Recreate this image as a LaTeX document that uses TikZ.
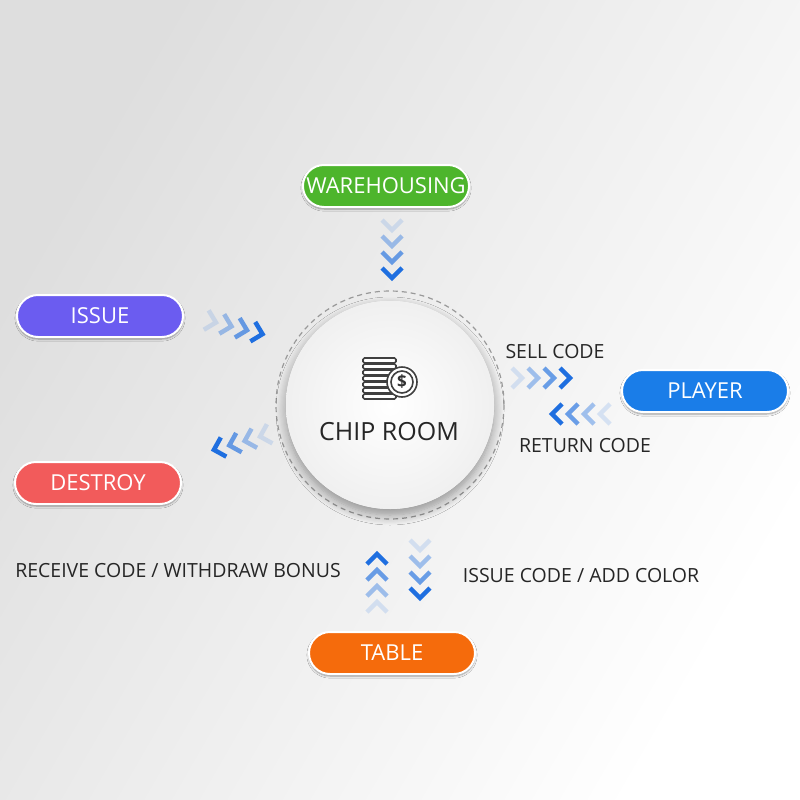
\documentclass[tikz,border=0pt]{standalone}
\usepackage{fontspec}
\setmainfont{Open Sans}
\usetikzlibrary{shadows.blur}
\definecolor{cgreen}{HTML}{4DB52C}
\definecolor{cpurple}{HTML}{6B5CF0}
\definecolor{cred}{HTML}{F25B5B}
\definecolor{cblue}{HTML}{1A7DE8}
\definecolor{corange}{HTML}{F56B0C}
\definecolor{cchev}{HTML}{1F6FE0}
\tikzset{
  pill/.style={rounded corners=21pt, minimum width=166pt, minimum height=42pt, draw=white, line width=2pt, text=white, font=\fontsize{22}{22}\selectfont, blur shadow={shadow blur steps=5,shadow xshift=0pt,shadow yshift=-2pt}},
  lbl/.style={font=\fontsize{19.5}{19.5}\selectfont, text=black!85},
}
\newcommand{\chevs}[3]{% x y angle
  \begin{scope}[shift={(#1,#2)},rotate=#3]
  \foreach \i/\o in {0/0.15,1/0.4,2/0.65,3/1}{
    \draw[cchev, opacity=\o, line width=4.5pt, line cap=butt, line join=miter] (\i*16-8,-10) -- (\i*16+2,0) -- (\i*16-8,10);
  }
  \end{scope}}
\begin{document}
\begin{tikzpicture}[x=1pt,y=-1pt]
\useasboundingbox (0,0) rectangle (800,800);
\shade[left color=black!13, right color=white, shading angle=60] (0,0) rectangle (800,800);
% center
\draw[black!40, dashed, line width=1.2pt, dash pattern=on 5pt off 4pt] (390,405) circle (114);
\fill[white, blur shadow={shadow blur steps=10, shadow xshift=0pt, shadow yshift=-6pt, shadow blur radius=10pt}] (390,405) circle (104);
\shade[inner color=white, outer color=black!6] (390,405) circle (104);
\node[font=\fontsize{25}{25}\selectfont, text=black!85] (chip) at (389,432) {CHIP ROOM};
% icon
\begin{scope}[black!75, line width=1.6pt]
\foreach \k in {0,...,6}{ \draw[rounded corners=1.5pt, fill=white] (363,358+\k*6) rectangle (396,363+\k*6); }
\draw[fill=white] (402,382) circle (15);
\draw (402,382) circle (11);
\node[font=\bfseries\fontsize{17}{17}\selectfont, text=black!80] (dollar) at (402,382) {\$};
\end{scope}
% pills
\node[pill, fill=cgreen] (ware) at (386,186) {WAREHOUSING};
\node[pill, fill=cpurple] (issue) at (100,316) {ISSUE};
\node[pill, fill=cred] (destroy) at (98,483) {DESTROY};
\node[pill, fill=cblue] (player) at (705,391) {PLAYER};
\node[pill, fill=corange] (table) at (392,653) {TABLE};
% labels
\node[lbl] (sell) at (555,352) {SELL CODE};
\node[lbl] (ret) at (585,446) {RETURN CODE};
\node[lbl] (recv) at (178,571) {RECEIVE CODE / WITHDRAW BONUS};
\node[lbl] (iss) at (581,576) {ISSUE CODE / ADD COLOR};
% chevrons
\chevs{392}{228}{-90}
\chevs{214}{322}{-14}
\chevs{520}{378}{0}
\chevs{602}{414}{180}
\chevs{262}{436}{196}
\chevs{377}{604}{90}
\chevs{420}{548}{-90}
\end{tikzpicture}
\end{document}
